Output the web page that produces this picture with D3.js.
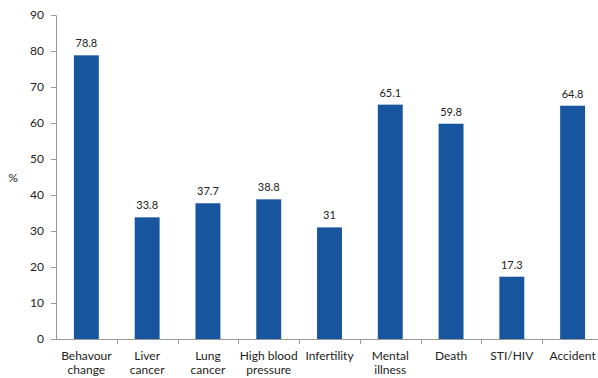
<!DOCTYPE html>
<html>
<head>
<meta charset="utf-8" />
<style>
  body { margin: 0; background: #fff; }
  text { font-family: Lato, "Open Sans", sans-serif; fill: #222; }
</style>
</head>
<body>
<div id="chart"></div>
<script src="https://d3js.org/d3.v7.min.js"></script>
<script>
  var categories = [["Behavour", "change"], ["Liver", "cancer"], ["Lung", "cancer"],
    ["High blood", "pressure"], ["Infertility"], ["Mental", "illness"], ["Death"], ["STI/HIV"], ["Accident"]];
  var values = [78.8, 33.8, 37.7, 38.8, 31, 65.1, 59.8, 17.3, 64.8];
  var valueLabels = ["78.8", "33.8", "37.7", "38.8", "31", "65.1", "59.8", "17.3", "64.8"];
  var yTicks = [0, 10, 20, 30, 40, 50, 60, 70, 80, 90];

  var w = 598, h = 378;
  var mLeft = 56, mRight = 603, mTop = 15, mBottom = 339;

  var svg = d3.select("#chart").append("svg")
    .attr("width", w).attr("height", h);

  var xScale = d3.scaleBand().domain(d3.range(categories.length))
    .range([mLeft, mRight]).paddingInner(0.59).paddingOuter(0.295);
  var yScale = d3.scaleLinear().domain([0, 90]).range([mBottom, mTop]);

  // y axis
  var ya = svg.append("g").attr("transform", "translate(" + mLeft + ",0)")
    .call(d3.axisLeft(yScale).tickValues(yTicks).tickSize(5).tickPadding(7));
  ya.select(".domain").attr("stroke", "#999");
  ya.selectAll(".tick line").attr("stroke", "#999");
  ya.selectAll("text").attr("font-size", 12).attr("fill", "#222")
    .attr("font-family", "Lato, Open Sans, sans-serif");

  // x axis line and category separators
  var gap = xScale.step() - xScale.bandwidth();
  svg.append("line").attr("x1", mLeft).attr("x2", mRight)
    .attr("y1", mBottom + 0.5).attr("y2", mBottom + 0.5).attr("stroke", "#999");
  svg.selectAll(".xt").data(d3.range(1, categories.length)).enter().append("line")
    .attr("x1", function (d) { return Math.round(xScale(d) - gap / 2) + 0.5; })
    .attr("x2", function (d) { return Math.round(xScale(d) - gap / 2) + 0.5; })
    .attr("y1", mBottom).attr("y2", mBottom + 5).attr("stroke", "#999");

  svg.append("text").attr("x", 13).attr("y", 182).attr("font-size", 12)
    .attr("text-anchor", "middle").text("%");

  svg.selectAll(".bar").data(values).enter().append("rect")
    .attr("x", function (d, i) { return xScale(i); })
    .attr("width", xScale.bandwidth())
    .attr("y", function (d) { return yScale(d); })
    .attr("height", function (d) { return mBottom - yScale(d); })
    .attr("fill", "#17569e");

  svg.selectAll(".vl").data(values).enter().append("text")
    .attr("x", function (d, i) { return xScale(i) + xScale.bandwidth() / 2; })
    .attr("y", function (d) { return yScale(d) - 8; })
    .attr("text-anchor", "middle").attr("font-size", 12)
    .attr("font-family", "Open Sans, sans-serif").attr("font-size", 11)
    .text(function (d, i) { return valueLabels[i]; });

  var cl = svg.selectAll(".cl").data(categories).enter().append("text")
    .attr("text-anchor", "middle").attr("font-size", 12)
    .attr("transform", function (d, i) { return "translate(" + (xScale(i) + xScale.bandwidth() / 2) + ",0)"; });
  cl.selectAll("tspan").data(function (d) { return d; }).enter().append("tspan")
    .attr("x", 0).attr("y", function (d, j) { return 360 + j * 14; })
    .text(function (d) { return d; });
</script>
</body>
</html>
